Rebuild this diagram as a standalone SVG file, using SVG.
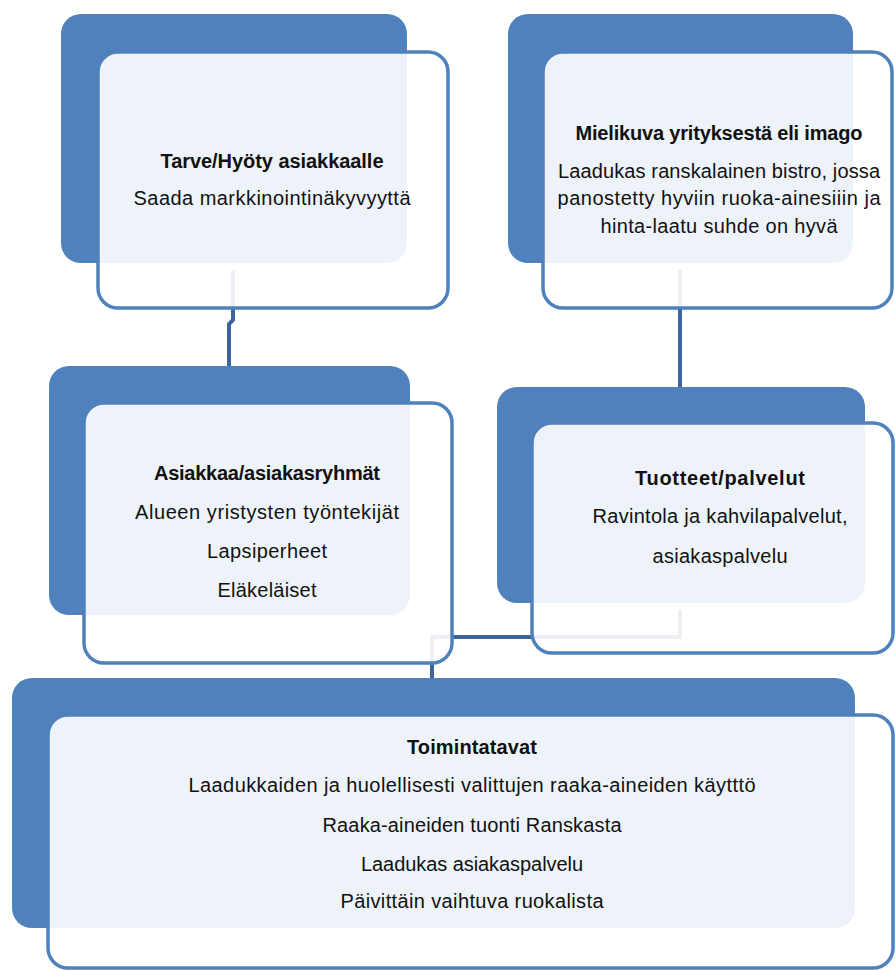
<svg xmlns="http://www.w3.org/2000/svg" width="895" height="970" viewBox="0 0 895 970">
<style>
.back{fill:#4F81BD;}
.front{fill:#FFFFFF;fill-opacity:0.9;stroke:#4F81BD;stroke-width:3.5;}
.conn{fill:none;stroke:#3D659B;stroke-width:4;}
text{font-family:"Liberation Sans",Arial,sans-serif;fill:#111;text-anchor:middle;}
.t{font-weight:bold;font-size:20px;}
.b{font-size:20px;}
</style>
<rect width="895" height="970" fill="#FFFFFF"/>
<g id="connectors">
<path class="conn" d="M233,270 V320 L229,324 V366"/>
<path class="conn" d="M680,270 V387"/>
<path class="conn" d="M680,610 V637 H432 V678"/>
</g>
<g id="node-tarve">
<rect class="back" x="61" y="14" width="346" height="249" rx="20"/>
<rect class="front" x="98" y="52" width="350" height="256" rx="20"/>
<text class="t" x="272" y="168" textLength="223">Tarve/Hyöty asiakkaalle</text>
<text class="b" x="272" y="205" textLength="277">Saada markkinointinäkyvyyttä</text>
</g>
<g id="node-mielikuva">
<rect class="back" x="508" y="14" width="345" height="249" rx="20"/>
<rect class="front" x="543" y="52" width="349" height="256" rx="20"/>
<text class="t" x="719" y="140" textLength="287">Mielikuva yrityksestä eli imago</text>
<text class="b" x="719" y="178" textLength="322">Laadukas ranskalainen bistro, jossa</text>
<text class="b" x="719" y="205" textLength="323">panostetty hyviin ruoka-ainesiiin ja</text>
<text class="b" x="719" y="233" textLength="237">hinta-laatu suhde on hyvä</text>
</g>
<g id="node-asiakkaat">
<rect class="back" x="49" y="366" width="361" height="249" rx="20"/>
<rect class="front" x="84" y="403" width="368" height="260" rx="20"/>
<text class="t" x="267" y="480" textLength="226">Asiakkaa/asiakasryhmät</text>
<text class="b" x="267" y="519" textLength="264">Alueen yristysten työntekijät</text>
<text class="b" x="267" y="558" textLength="120">Lapsiperheet</text>
<text class="b" x="267" y="597" textLength="99">Eläkeläiset</text>
</g>
<g id="node-tuotteet">
<rect class="back" x="497" y="387" width="368" height="216" rx="20"/>
<rect class="front" x="532" y="423" width="361" height="230" rx="20"/>
<text class="t" x="720" y="485" textLength="170">Tuotteet/palvelut</text>
<text class="b" x="720" y="523" textLength="255">Ravintola ja kahvilapalvelut,</text>
<text class="b" x="720" y="563" textLength="135">asiakaspalvelu</text>
</g>
<g id="node-toimintatavat">
<rect class="back" x="12" y="678" width="843" height="250" rx="20"/>
<rect class="front" x="48" y="715" width="845" height="253" rx="20"/>
<text class="t" x="472" y="754" textLength="130">Toimintatavat</text>
<text class="b" x="472" y="792" textLength="567">Laadukkaiden ja huolellisesti valittujen raaka-aineiden  käytttö</text>
<text class="b" x="472" y="832" textLength="299">Raaka-aineiden tuonti Ranskasta</text>
<text class="b" x="472" y="871" textLength="222">Laadukas asiakaspalvelu</text>
<text class="b" x="472" y="908" textLength="263">Päivittäin vaihtuva ruokalista</text>
</g>
</svg>
